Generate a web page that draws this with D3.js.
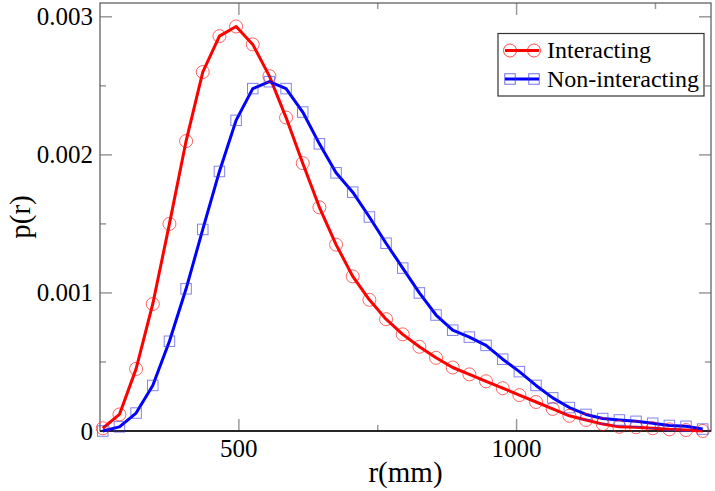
<!DOCTYPE html>
<html>
<head>
<meta charset="utf-8">
<script src="https://cdn.jsdelivr.net/npm/d3@7"></script>
<style>
  html, body { margin: 0; padding: 0; background: #fff; }
  svg { display: block; }
  svg text { font-family: 'Liberation Serif', Tinos, 'Times New Roman', Times, serif; }
</style>
</head>
<body>
<svg id="chart" width="715" height="491"></svg>
<script>
// ---- data ----
const radii = [255, 285, 315, 345, 375, 405, 435, 465, 495, 525, 555, 585, 615, 645, 675, 705, 735, 765, 795, 825, 855, 885, 915, 945, 975, 1005, 1035, 1065, 1095, 1125, 1155, 1185, 1215, 1245, 1275, 1305, 1335];
const interacting = [0.00002, 0.00012, 0.00045, 0.00092, 0.0015, 0.0021, 0.0026, 0.00286, 0.00293, 0.0028, 0.00257, 0.00227, 0.00194, 0.00162, 0.00135, 0.00112, 0.00095, 0.00081, 0.0007, 0.00061, 0.00053, 0.00046, 0.00041, 0.00036, 0.00031, 0.00026, 0.00021, 0.00016, 0.00011, 0.00008, 0.00005, 0.00003, 0.000027, 0.00002, 0.000012, 0.000007, 0.0];
const nonInteracting = [0.0, 0.00003, 0.00013, 0.00033, 0.00065, 0.00103, 0.00146, 0.00188, 0.00225, 0.00248, 0.00253, 0.00248, 0.00231, 0.00208, 0.00187, 0.00173, 0.00155, 0.00136, 0.00118, 0.001, 0.00084, 0.00073, 0.00068, 0.00062, 0.00052, 0.00043, 0.00033, 0.00024, 0.00017, 0.00012, 0.00009, 0.00008, 0.00007, 0.000056, 0.00004, 0.000034, 0.000014];
const seriesNames = ["Interacting", "Non-interacting"];
const xMajorTicks = [500, 1000];
const xMinorTicks = [250, 750, 1250];
const yMajorTicks = [0, 0.001, 0.002, 0.003];
const yMinorTicks = [0.0005, 0.0015, 0.0025];
const yTickLabels = ["0", "0.001", "0.002", "0.003"];
const xLabel = "r(mm)";
const yLabel = "p(r)";

// ---- layout ----
const svg = d3.select("#chart");
const L = 100, R = 711, T = 3, B = 431;
const x = d3.scaleLinear().domain([250, 1350]).range([L, R]);
const y = d3.scaleLinear().domain([0, 0.0031]).range([B, T]);

const tickColor = "#9a9a9a";
const majorLen = 12, minorLen = 6;

// ticks (inward on all four sides)
const gT = svg.append("g");
function xTicks(vals, len) {
  vals.forEach(v => {
    gT.append("line").attr("x1", x(v)).attr("x2", x(v)).attr("y1", B).attr("y2", B - len)
      .attr("stroke", tickColor).attr("stroke-width", 1.5);
    gT.append("line").attr("x1", x(v)).attr("x2", x(v)).attr("y1", T).attr("y2", T + len)
      .attr("stroke", tickColor).attr("stroke-width", 1.5);
  });
}
function yTicks(vals, len) {
  vals.forEach(v => {
    gT.append("line").attr("x1", L).attr("x2", L + len).attr("y1", y(v)).attr("y2", y(v))
      .attr("stroke", tickColor).attr("stroke-width", 1.5);
    gT.append("line").attr("x1", R).attr("x2", R - len).attr("y1", y(v)).attr("y2", y(v))
      .attr("stroke", tickColor).attr("stroke-width", 1.5);
  });
}
xTicks(xMajorTicks, majorLen);
xTicks(xMinorTicks.filter(v => v > 250), minorLen);
yTicks(yMajorTicks.filter(v => v > 0), majorLen);
yTicks(yMinorTicks, minorLen);

// frame
svg.append("rect").attr("x", L).attr("y", T).attr("width", R - L).attr("height", B - T)
  .attr("fill", "none").attr("stroke", "#555").attr("stroke-width", 1.2);
svg.append("line").attr("x1", L).attr("x2", R).attr("y1", B).attr("y2", B)
  .attr("stroke", "#000").attr("stroke-width", 1.5);

// tick labels
xMajorTicks.forEach(v => {
  svg.append("text").attr("x", x(v)).attr("y", 457).attr("text-anchor", "middle")
    .attr("font-size", 25).attr("fill", "#000").text(d3.format("d")(v));
});
yMajorTicks.forEach((v, i) => {
  svg.append("text").attr("x", 93).attr("y", y(v)).attr("dy", "0.34em").attr("text-anchor", "end")
    .attr("font-size", 25).attr("fill", "#000").text(yTickLabels[i]);
});

// axis titles
svg.append("text").attr("x", (L + R) / 2).attr("y", 482).attr("text-anchor", "middle")
  .attr("font-size", 29).attr("fill", "#000").text(xLabel);
svg.append("text").attr("transform", `translate(30,${(T + B) / 2}) rotate(-90)`)
  .attr("text-anchor", "middle").attr("font-size", 29).attr("fill", "#000").text(yLabel);

// series
const red = "#ff0000", blue = "#0000ff";
const dataRed = radii.map((r, i) => ({ r, v: interacting[i] }));
const dataBlue = radii.map((r, i) => ({ r, v: nonInteracting[i] }));
const line = d3.line().x(d => x(d.r)).y(d => y(d.v));

const plot = svg.append("g");

plot.append("path").datum(dataRed).attr("d", line).attr("fill", "none")
  .attr("stroke", red).attr("stroke-width", 3).attr("stroke-linejoin", "round");
plot.append("path").datum(dataBlue).attr("d", line).attr("fill", "none")
  .attr("stroke", blue).attr("stroke-width", 3).attr("stroke-linejoin", "round");

plot.selectAll("circle.m").data(dataRed).join("circle").attr("class", "m")
  .attr("cx", d => x(d.r)).attr("cy", d => y(d.v)).attr("r", 6.5)
  .attr("fill", "none").attr("stroke", red).attr("stroke-opacity", 0.6).attr("stroke-width", 1);
const sq = 10.5;
plot.selectAll("rect.m").data(dataBlue).join("rect").attr("class", "m")
  .attr("x", d => x(d.r) - sq / 2).attr("y", d => y(d.v) - sq / 2).attr("width", sq).attr("height", sq)
  .attr("fill", "none").attr("stroke", "#3030e0").attr("stroke-opacity", 0.6).attr("stroke-width", 1);

// legend
const lg = svg.append("g");
lg.append("rect").attr("x", 498).attr("y", 33.5).attr("width", 206).attr("height", 62.5)
  .attr("fill", "#fff").attr("stroke", "#333").attr("stroke-width", 1.2);
const rows = [
  { name: seriesNames[0], color: red, y: 50.5, shape: "circle" },
  { name: seriesNames[1], color: blue, y: 79, shape: "square" }
];
rows.forEach(rw => {
  lg.append("line").attr("x1", 505).attr("x2", 539).attr("y1", rw.y).attr("y2", rw.y)
    .attr("stroke", rw.color).attr("stroke-width", 3);
  [510, 534].forEach(cx => {
    if (rw.shape === "circle") {
      lg.append("circle").attr("cx", cx).attr("cy", rw.y).attr("r", 6.5).attr("fill", "none")
        .attr("stroke", rw.color).attr("stroke-opacity", 0.7).attr("stroke-width", 1);
    } else {
      lg.append("rect").attr("x", cx - sq / 2).attr("y", rw.y - sq / 2).attr("width", sq).attr("height", sq)
        .attr("fill", "none").attr("stroke", "#3030e0").attr("stroke-opacity", 0.7).attr("stroke-width", 1);
    }
  });
  lg.append("text").attr("x", 547).attr("y", rw.y).attr("dy", "0.33em").attr("font-size", 24)
    .attr("fill", "#000").text(rw.name);
});
</script>
</body>
</html>
